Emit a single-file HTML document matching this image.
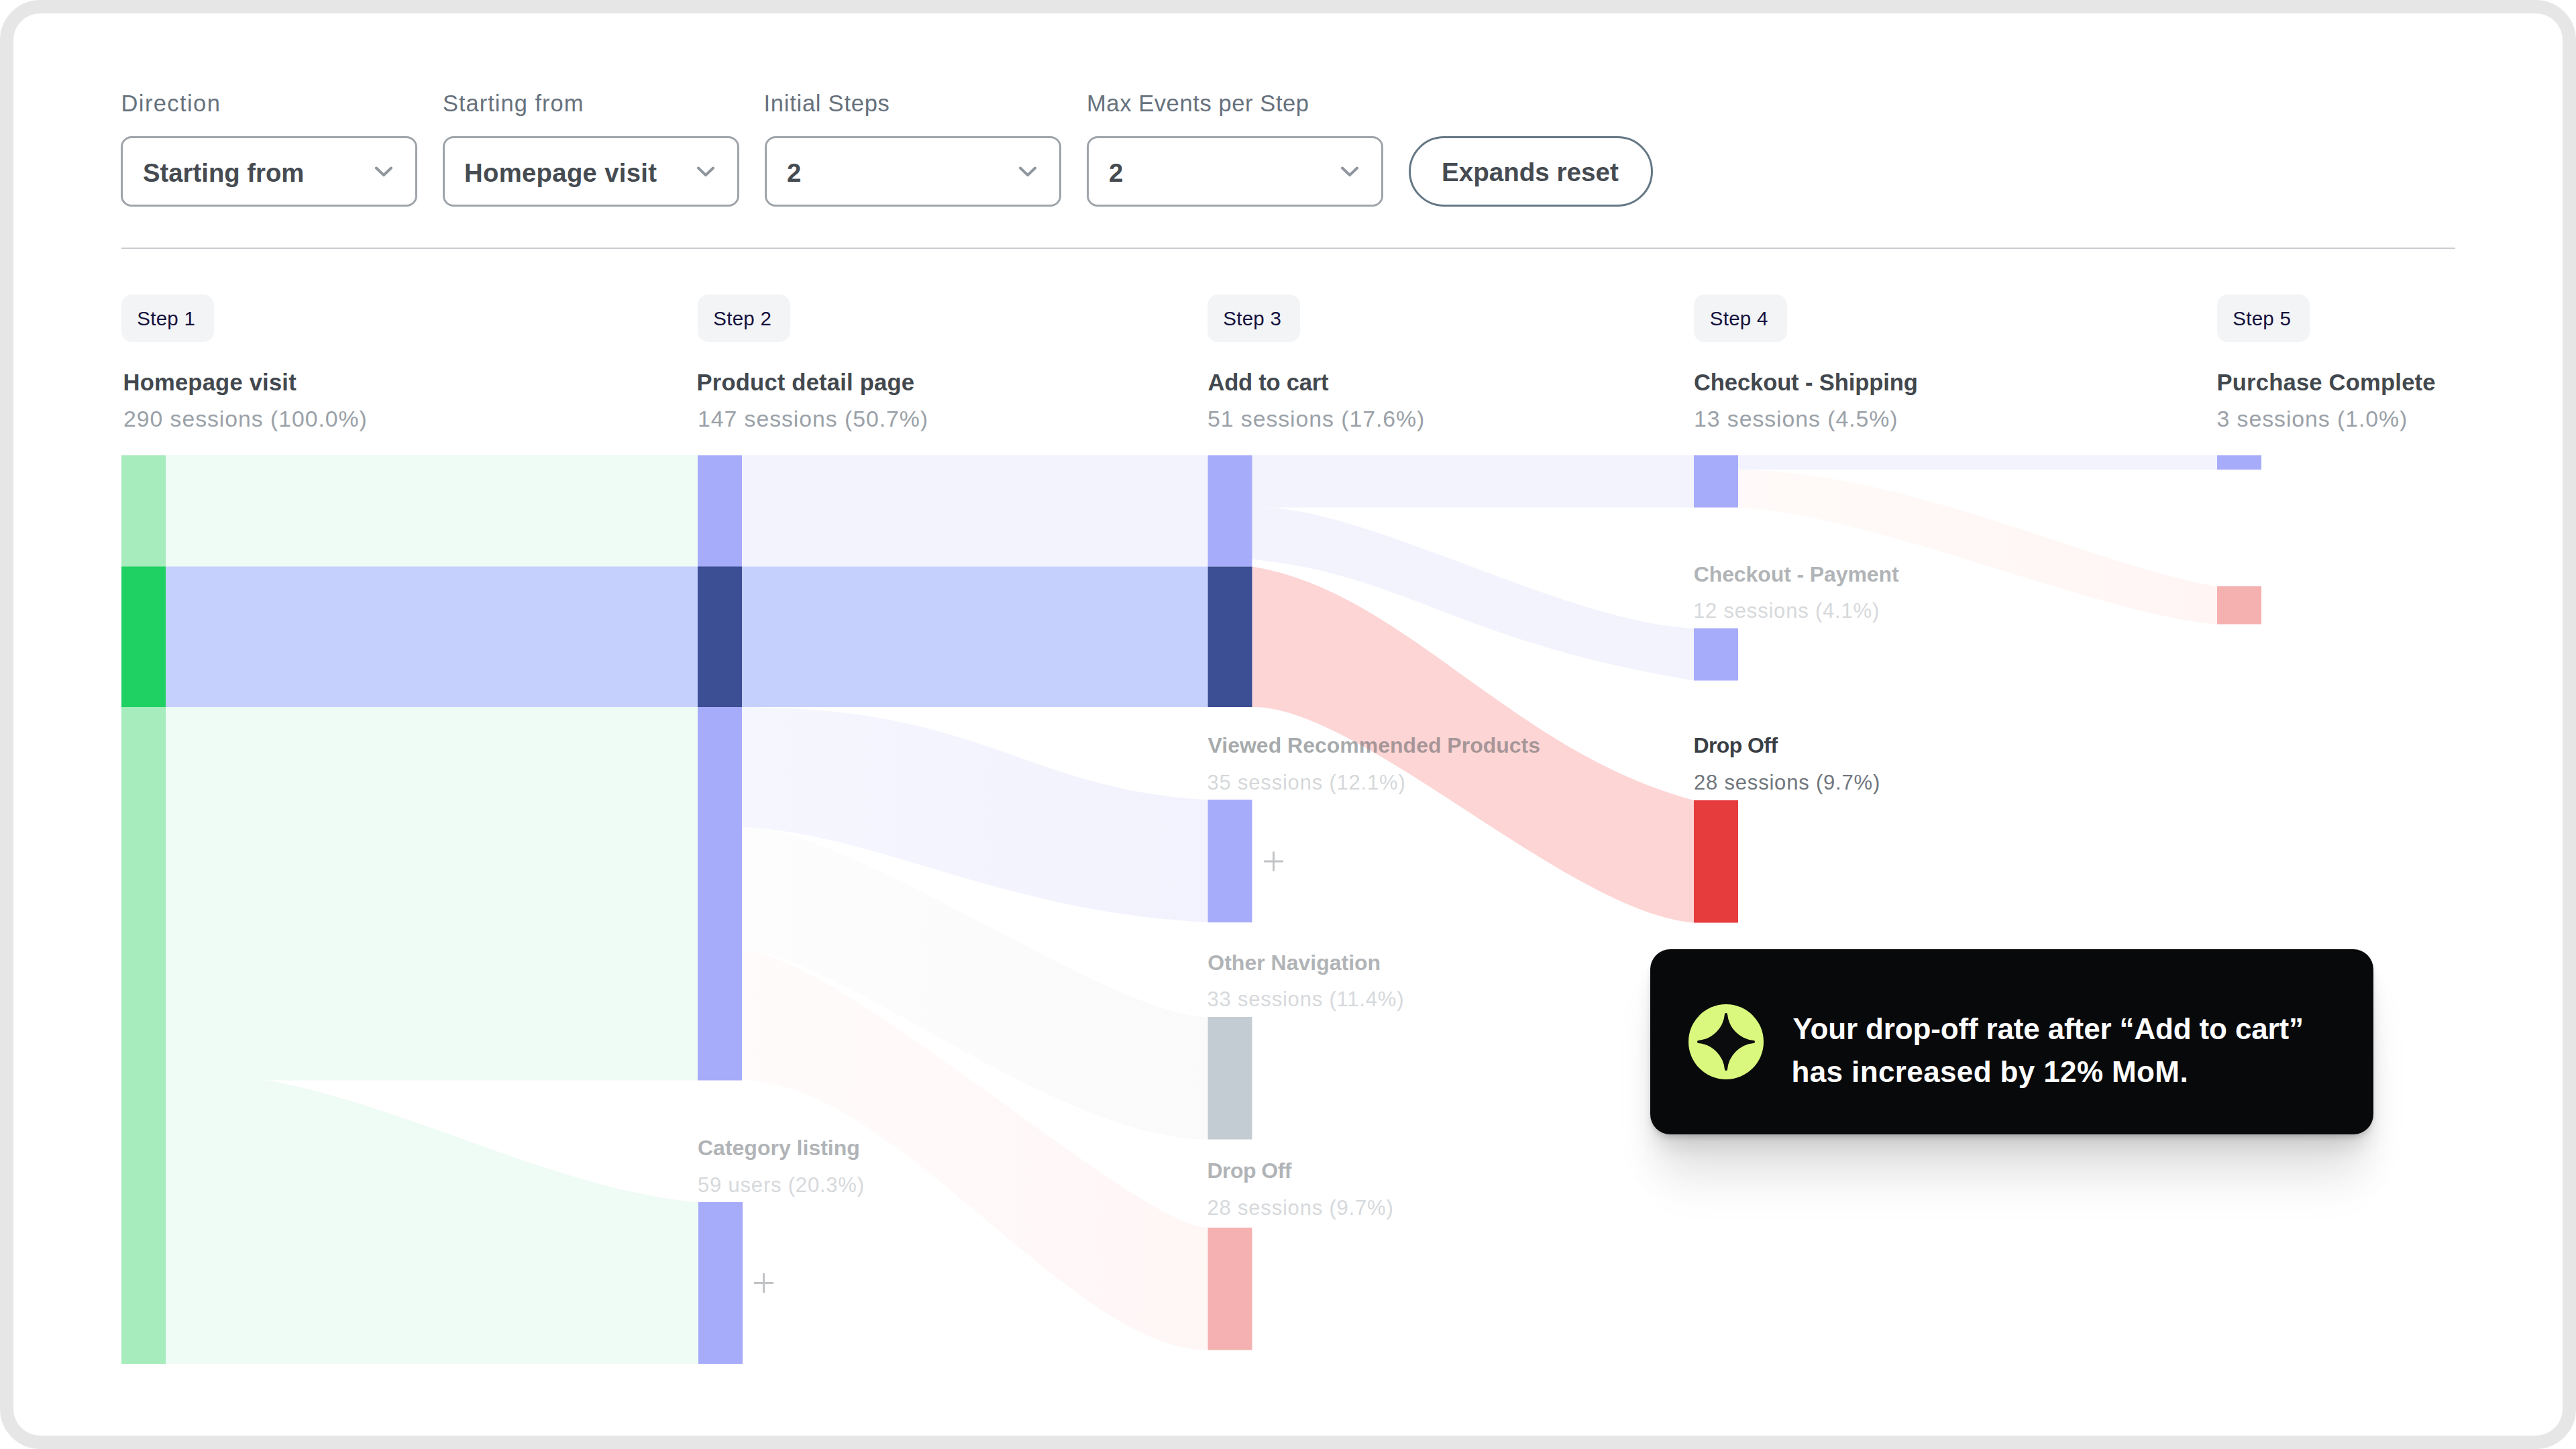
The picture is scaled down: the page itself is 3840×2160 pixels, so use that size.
<!DOCTYPE html>
<html lang="en">
<head>
<meta charset="utf-8">
<title>User journey</title>
<style>
*{box-sizing:border-box;margin:0;padding:0}
html,body{width:3840px;height:2160px;background:#fff;overflow:hidden}
body{position:relative;font-family:"Liberation Sans",Arial,sans-serif;-webkit-font-smoothing:antialiased}
.frame{position:absolute;left:0;top:0;width:3840px;height:2160px;border:20px solid #e6e6e6;border-radius:60px;background:#fff}
.abs{position:absolute;white-space:nowrap;line-height:1}
.lbl{font-size:34.5px;letter-spacing:.6px;color:#67727d}
.sel{position:absolute;top:203px;height:105px;width:442px;border:3px solid #9ea4aa;border-radius:16px;background:#fff}
.sel span{position:absolute;left:30px;top:32.6px;font-size:38.3px;font-weight:700;color:#454b51;line-height:1;white-space:nowrap}
.sel svg{position:absolute;left:373.4px;top:40px}
.btn{position:absolute;left:2100px;top:203px;width:364px;height:105px;border:3px solid #647784;border-radius:53px;background:#fff}
.btn span{position:absolute;left:46px;top:32.3px;font-size:38.6px;font-weight:700;color:#454b51;line-height:1;white-space:nowrap}
.hr{position:absolute;left:181px;top:369px;width:3479px;height:2px;background:#c9cdd1}
.chip{position:absolute;top:438.5px;height:71px;width:138.5px;border-radius:16px;background:#f3f4f6}
.chip span{position:absolute;left:23.8px;top:21.5px;font-size:29.5px;letter-spacing:.25px;color:#15123d;line-height:1;white-space:nowrap}
.t1{font-size:34.6px;font-weight:700;letter-spacing:.2px;color:#42484e}
.s1{font-size:33.8px;letter-spacing:.95px;color:#9aa1a8}
.t2{font-size:32px;font-weight:700;color:#b1b4b7}
.s2{font-size:31px;letter-spacing:.8px;color:#d6d9dc}
.tip{position:absolute;left:2459.5px;top:1415.3px;width:1078px;height:275.5px;border-radius:30px;background:#08090b;box-shadow:0 6px 8px -2px rgba(0,0,0,.18),0 24px 30px -6px rgba(0,0,0,.11),0 62px 64px -10px rgba(0,0,0,.09),0 104px 70px -16px rgba(0,0,0,.03)}
.tip .ic{position:absolute;left:57px;top:82px;width:112px;height:112px}
.tip p{position:absolute;left:213px;font-size:44px;font-weight:700;color:#fff;line-height:1;white-space:nowrap}
</style>
</head>
<body>
<div class="frame"></div>

<!-- controls -->
<div class="abs lbl" style="left:180.5px;top:137.3px;letter-spacing:1.4px">Direction</div>
<div class="abs lbl" style="left:660px;top:137.3px;letter-spacing:1px">Starting from</div>
<div class="abs lbl" style="left:1138.5px;top:137.3px;letter-spacing:.75px">Initial Steps</div>
<div class="abs lbl" style="left:1620px;top:137.3px">Max Events per Step</div>

<div class="sel" style="left:180px"><span>Starting from</span><svg width="32" height="20" viewBox="0 0 32 20"><path d="M5 4.5 L16 15 L27 4.5" fill="none" stroke="#8f969d" stroke-width="4" stroke-linecap="round" stroke-linejoin="round"/></svg></div>
<div class="sel" style="left:660px"><span style="left:29px;letter-spacing:.3px">Homepage visit</span><svg width="32" height="20" viewBox="0 0 32 20"><path d="M5 4.5 L16 15 L27 4.5" fill="none" stroke="#8f969d" stroke-width="4" stroke-linecap="round" stroke-linejoin="round"/></svg></div>
<div class="sel" style="left:1140px"><span>2</span><svg width="32" height="20" viewBox="0 0 32 20"><path d="M5 4.5 L16 15 L27 4.5" fill="none" stroke="#8f969d" stroke-width="4" stroke-linecap="round" stroke-linejoin="round"/></svg></div>
<div class="sel" style="left:1620px"><span>2</span><svg width="32" height="20" viewBox="0 0 32 20"><path d="M5 4.5 L16 15 L27 4.5" fill="none" stroke="#8f969d" stroke-width="4" stroke-linecap="round" stroke-linejoin="round"/></svg></div>
<div class="btn"><span>Expands reset</span></div>
<div class="hr"></div>

<!-- step chips -->
<div class="chip" style="left:180.5px"><span>Step 1</span></div>
<div class="chip" style="left:1039.5px"><span>Step 2</span></div>
<div class="chip" style="left:1799.5px"><span>Step 3</span></div>
<div class="chip" style="left:2525px"><span>Step 4</span></div>
<div class="chip" style="left:3304.5px"><span>Step 5</span></div>

<!-- SANKEY -->
<svg class="abs" style="left:0;top:0" width="3840" height="2160" viewBox="0 0 3840 2160">
<defs>
<linearGradient id="gL" x1="0" x2="1" y1="0" y2="0"><stop offset="0" stop-color="#f5f6fe"/><stop offset="1" stop-color="#f1f2fd"/></linearGradient>
<linearGradient id="gG" x1="0" x2="1" y1="0" y2="0"><stop offset="0" stop-color="#fdfdfd"/><stop offset="1" stop-color="#fafafa"/></linearGradient>
<linearGradient id="gP" x1="0" x2="1" y1="0" y2="0"><stop offset="0" stop-color="#fffbfb"/><stop offset="1" stop-color="#fff6f6"/></linearGradient>
<linearGradient id="gP2" x1="0" x2="1" y1="0" y2="0"><stop offset="0" stop-color="#fffaf9"/><stop offset="1" stop-color="#fff5f4"/></linearGradient>
</defs>
<rect x="247" y="678.5" width="793" height="932.0" fill="#effbf5"/>
<path d="M247,1610 L399.2,1610.6 C605.1,1647.4 831.2,1774.2 1040.6,1792.1 L1041,1792.1 L1041,2033 L247,2033 Z" fill="#effbf5"/>
<rect x="247" y="844.5" width="793" height="209.5" fill="#c5d0fd"/>
<rect x="1106" y="678.5" width="694.5" height="166.0" fill="#f2f3fd"/>
<rect x="1106" y="844.5" width="694.5" height="209.5" fill="#c5d0fd"/>
<path d="M1106,1054 C1466.6,1054.1 1528.4,1177.5 1800.5,1192.3 L1800.5,1374.8 C1492.9,1359.9 1313.4,1243.5 1106,1232.8 Z" fill="url(#gL)"/>
<path d="M1106,1232.8 C1270.6,1232.8 1657.4,1516 1800.5,1516 L1800.5,1698.5 C1571.3,1698.5 1244.9,1417 1106,1417 Z" fill="url(#gG)"/>
<path d="M1106,1417 C1244.9,1417 1696.3,1830 1800.5,1830 L1800.5,2012.5 C1595.6,2012.5 1333.1,1610.5 1106,1610.5 Z" fill="url(#gP)"/>
<rect x="1866.5" y="678.5" width="658.5" height="78.0" fill="#f2f3fd"/>
<path d="M1866.5,756 L1894.3,756.5 C2062.5,769.7 2342.6,929.1 2525.3,936.7 L2525.3,1014.5 C2174.4,957.3 2097.1,856.8 1866.5,833.7 Z" fill="#f2f3fd"/>
<path d="M1866.5,844.5 C2094.9,882.0 2250.7,1119.7 2525.0,1193.0 L2525.0,1375.4 C2339.7,1361.8 2026.1,1050.9 1866.5,1054.0 Z" fill="#fdd5d5"/>
<rect x="2591" y="678.5" width="714" height="21.5" fill="#f2f3fd"/>
<path d="M2591,700 C2850.6,703.8 3116.6,842.4 3305,874.5 L3305,930.5 C3136.1,919.1 2798.7,767.8 2591,756.3 Z" fill="url(#gP2)"/>
<rect x="181" y="678.5" width="66" height="1354.5" fill="#a6ecbc"/>
<rect x="181" y="844.5" width="66" height="209.5" fill="#1fd163"/>
<rect x="1040" y="678.5" width="66" height="932.0" fill="#a7acfa"/>
<rect x="1040" y="844.5" width="66" height="209.5" fill="#3c4e94"/>
<rect x="1041" y="1792" width="66" height="241" fill="#a7acfa"/>
<rect x="1800.5" y="678.5" width="66.0" height="166.0" fill="#a7acfa"/>
<rect x="1800.5" y="844.5" width="66.0" height="209.5" fill="#3c4e94"/>
<rect x="1800.5" y="1192" width="66.0" height="183" fill="#a7acfa"/>
<rect x="1800.5" y="1516" width="66.0" height="182.5" fill="#c4ccd3"/>
<rect x="1800.5" y="1830" width="66.0" height="182.5" fill="#f5b1b1"/>
<rect x="2525" y="678.5" width="66" height="78.0" fill="#a7acfa"/>
<rect x="2525" y="936.5" width="66" height="78.0" fill="#a7acfa"/>
<rect x="2525" y="1193" width="66" height="182.5" fill="#e63c3e"/>
<rect x="3305" y="678.5" width="66" height="21.5" fill="#a7acfa"/>
<rect x="3305" y="874" width="66" height="56.5" fill="#f5b0b0"/>
<path d="M1124.0,1912.5 H1153.0 M1138.5,1898.0 V1927.0" stroke="#c2c3c7" stroke-width="3" fill="none"/>
<path d="M1884.0,1284 H1913.0 M1898.5,1269.5 V1298.5" stroke="#c2c3c7" stroke-width="3" fill="none"/>
</svg>

<div class="abs t1" style="left:183.5px;top:553.2px;">Homepage visit</div>
<div class="abs s1" style="left:184px;top:608.3px;">290 sessions (100.0%)</div>
<div class="abs t1" style="left:1038.5px;top:553.2px;">Product detail page</div>
<div class="abs s1" style="left:1040px;top:608.3px;">147 sessions (50.7%)</div>
<div class="abs t1" style="left:1800.5px;top:553.2px;letter-spacing:-.25px">Add to cart</div>
<div class="abs s1" style="left:1800px;top:608.3px;">51 sessions (17.6%)</div>
<div class="abs t1" style="left:2525px;top:553.2px;letter-spacing:-.13px">Checkout - Shipping</div>
<div class="abs s1" style="left:2525px;top:608.3px;">13 sessions (4.5%)</div>
<div class="abs t1" style="left:3304.5px;top:553.2px;">Purchase Complete</div>
<div class="abs s1" style="left:3304.5px;top:608.3px;">3 sessions (1.0%)</div>
<div class="abs t2" style="left:1800.5px;top:1095.4px;color:rgba(90,95,100,.55)">Viewed Recommended Products</div>
<div class="abs s2" style="left:1799.5px;top:1151.2px;color:rgba(120,128,136,.32)">35 sessions (12.1%)</div>
<div class="abs t2" style="left:1800.3px;top:1418.9px;">Other Navigation</div>
<div class="abs s2" style="left:1799.5px;top:1474.2px;">33 sessions (11.4%)</div>
<div class="abs t2" style="left:1799.5px;top:1728.9px;letter-spacing:-.55px">Drop Off</div>
<div class="abs s2" style="left:1799.5px;top:1784.7px;">28 sessions (9.7%)</div>
<div class="abs t2" style="left:1040px;top:1695.4px;">Category listing</div>
<div class="abs s2" style="left:1040px;top:1750.7px;">59 users (20.3%)</div>
<div class="abs t2" style="left:2524.7px;top:840.4px;letter-spacing:-.1px">Checkout - Payment</div>
<div class="abs s2" style="left:2524px;top:895.2px;">12 sessions (4.1%)</div>
<div class="abs t2" style="left:2524.5px;top:1095.4px;color:#3a3f45;letter-spacing:-.6px">Drop Off</div>
<div class="abs s2" style="left:2525px;top:1151.2px;color:#70767d">28 sessions (9.7%)</div>

<div class="tip">
<svg class="ic" viewBox="-56 -56 112 112"><circle r="56" fill="#d9f87d"/><path d="M0,-41 A45.6,45.6 0 0 0 41,0 A45.6,45.6 0 0 0 0,41 A45.6,45.6 0 0 0 -41,0 A45.6,45.6 0 0 0 0,-41 Z" fill="#0b0c0d" stroke="#0b0c0d" stroke-width="4" stroke-linejoin="round"/></svg>
<p style="top:96.3px;letter-spacing:-.14px">Your drop-off rate after “Add to cart”</p>
<p style="top:160.3px;left:211px;letter-spacing:.38px">has increased by 12% MoM.</p>
</div>
</body>
</html>
